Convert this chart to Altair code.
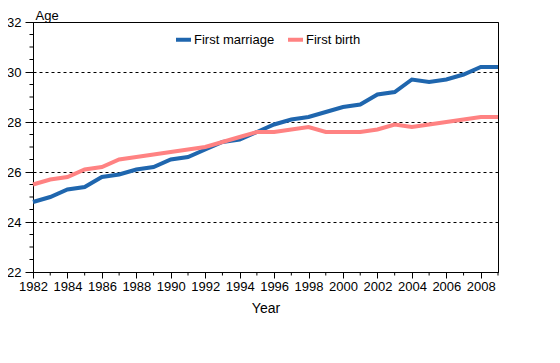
import altair as alt
import pandas as pd

years = list(range(1982, 2010))
first_marriage = [24.8, 25.0, 25.3, 25.4, 25.8, 25.9, 26.1, 26.2, 26.5, 26.6,
                  26.9, 27.2, 27.3, 27.6, 27.9, 28.1, 28.2, 28.4, 28.6, 28.7,
                  29.1, 29.2, 29.7, 29.6, 29.7, 29.9, 30.2, 30.2]
first_birth = [25.5, 25.7, 25.8, 26.1, 26.2, 26.5, 26.6, 26.7, 26.8, 26.9,
               27.0, 27.2, 27.4, 27.6, 27.6, 27.7, 27.8, 27.6, 27.6, 27.6,
               27.7, 27.9, 27.8, 27.9, 28.0, 28.1, 28.2, 28.2]
series_names = ["First marriage", "First birth"]
series_colors = ["#1f66ae", "#ff8282"]
x_major = list(range(1982, 2009, 2))
x_minor = list(range(1983, 2010, 2))
y_major = [22, 24, 26, 28, 30, 32]
y_minor = [22.5, 23, 23.5, 24.5, 25, 25.5, 26.5, 27, 27.5, 28.5, 29, 29.5,
           30.5, 31, 31.5]

df = pd.DataFrame({
    "Year": years * 2,
    "Age": first_marriage + first_birth,
    "Series": [series_names[0]] * len(years) + [series_names[1]] * len(years),
})

FONT = "Liberation Sans"
xscale = alt.Scale(domain=[1982, 2009], nice=False, zero=False)
yscale = alt.Scale(domain=[22, 32], nice=False, zero=False)

xaxis = alt.Axis(values=x_major, format="d", title="Year",
                 grid=False, tickSize=6, labelPadding=2,
                 titlePadding=8, labelFontSize=13, titleFontSize=14,
                 titleFontWeight="normal", labelFont=FONT,
                 titleFont=FONT, domainColor="black",
                 tickColor="black", labelColor="black",
                 titleColor="black", labelFlush=False,
                 labelOverlap=False)
yaxis = alt.Axis(values=y_major, title="Age", titleAngle=0,
                 titleX=2, titleY=-13, titleAlign="left",
                 titleBaseline="top", grid=True,
                 gridDash=[3, 3], gridColor="black", gridOpacity=1,
                 tickSize=8, labelPadding=4, labelFontSize=13,
                 titleFontSize=13, titleFontWeight="normal",
                 labelFont=FONT, titleFont=FONT, domainColor="black",
                 tickColor="black", labelColor="black",
                 titleColor="black", labelOverlap=False)

lines = alt.Chart(df).mark_line(strokeWidth=4, strokeCap="butt").encode(
    x=alt.X("Year:Q", scale=xscale, axis=xaxis),
    y=alt.Y("Age:Q", scale=yscale, axis=yaxis),
    color=alt.Color("Series:N",
                    scale=alt.Scale(domain=series_names, range=series_colors),
                    sort=series_names,
                    legend=alt.Legend(title=None, orient="none",
                                      direction="horizontal", legendX=141,
                                      legendY=8, symbolType="stroke",
                                      symbolStrokeWidth=4, symbolSize=225,
                                      labelFontSize=13, labelFont=FONT,
                                      labelColor="black", labelOffset=1,
                                      columnPadding=5, padding=0)),
)

xminor_df = pd.DataFrame({"Year": x_minor})
yminor_df = pd.DataFrame({"Age": y_minor})

xminor = alt.Chart(xminor_df).mark_rule(color="black", strokeWidth=1).encode(
    x=alt.X("Year:Q", scale=xscale, axis=xaxis),
    y=alt.value(250), y2=alt.value(253.5))
yminor = alt.Chart(yminor_df).mark_rule(color="black", strokeWidth=1).encode(
    y=alt.Y("Age:Q", scale=yscale, axis=yaxis),
    x=alt.value(-3.5), x2=alt.value(0))

chart = alt.layer(lines, xminor, yminor).properties(
    width=465, height=250,
    autosize=alt.AutoSizeParams(type="none"),
    padding={"left": 25, "top": 14, "right": 30, "bottom": 60},
).configure_view(stroke="black", strokeWidth=1)

chart.save("out.html", embed_options={"renderer": "svg", "actions": False})
